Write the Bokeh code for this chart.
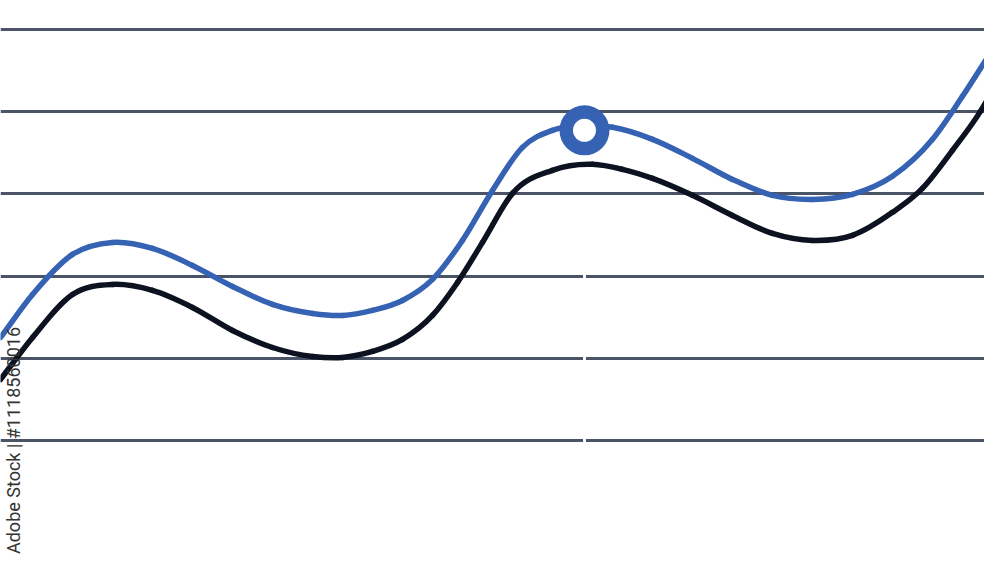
import numpy as np
from bokeh.plotting import figure
from bokeh.models import FixedTicker
from bokeh.embed import file_html
from bokeh.resources import INLINE
from bokeh.core.properties import value

# Blue series (x across 0..100, y in grid units: grid lines every 10)
blue_x = [0, 3.24, 7.28, 11.32, 15.37, 19.41, 23.46, 27.50, 31.55, 34.58, 37.61, 40.65,
          43.68, 46.71, 49.75, 52.78, 55.81, 59.05, 61.88, 65.93, 69.97, 74.01, 78.06,
          82.10, 86.15, 90.19, 94.24, 97.27, 100]
blue_y = [12.53, 17.76, 22.63, 24.09, 23.36, 21.29, 18.73, 16.55, 15.45, 15.21, 15.82,
          17.03, 19.59, 24.33, 30.41, 35.64, 37.71, 38.32, 38.08, 36.62, 34.31, 31.75,
          29.81, 29.32, 29.93, 32.12, 36.62, 41.85, 46.96]
# Black series
black_x = [0, 3.24, 7.28, 11.32, 15.37, 19.41, 23.46, 27.50, 31.55, 34.58, 37.61, 40.65,
           43.68, 46.21, 48.74, 51.77, 55.81, 59.86, 62.89, 65.93, 69.97, 74.01, 78.06,
           82.10, 86.15, 90.19, 93.22, 96.26, 99.09, 100]
black_y = [7.42, 12.53, 17.76, 18.98, 18.25, 16.18, 13.38, 11.31, 10.22, 10.10, 10.83,
           12.29, 15.21, 19.22, 24.09, 30.05, 32.85, 33.58, 32.97, 31.87, 29.81, 27.37,
           25.18, 24.33, 24.94, 27.74, 30.66, 35.28, 40.02, 41.85]
grid_levels = [0, 10, 20, 30, 40, 50]
marker_x = [59.05]
marker_y = [37.71]
watermark = "Adobe Stock | #1118560016"

BLUE = "#3562b3"
BLACK = "#0c1220"
GRID = "#4b5467"


def smooth_segments(xs, ys):
    """Cubic Hermite (weighted 3-point slopes) expressed as Bezier segments."""
    xs = np.asarray(xs, float)
    ys = np.asarray(ys, float)
    h = np.diff(xs)
    d = np.diff(ys) / h
    m = np.empty_like(ys)
    m[0] = d[0]
    m[-1] = d[-1]
    for i in range(1, len(xs) - 1):
        m[i] = (d[i - 1] * h[i] + d[i] * h[i - 1]) / (h[i - 1] + h[i])
    x0, x1 = xs[:-1], xs[1:]
    y0, y1 = ys[:-1], ys[1:]
    cx0 = x0 + h / 3
    cy0 = y0 + m[:-1] * h / 3
    cx1 = x1 - h / 3
    cy1 = y1 - m[1:] * h / 3
    return dict(x0=x0, y0=y0, x1=x1, y1=y1, cx0=cx0, cy0=cy0, cx1=cx1, cy1=cy1)


p = figure(width=984, height=556, output_backend="svg", toolbar_location=None,
           x_range=(0, 99.5), y_range=(-14.1, 53.5), min_border=0,
           outline_line_color=None, background_fill_color="white",
           border_fill_color="white")
p.xaxis.visible = False
p.yaxis.visible = False
p.xgrid.visible = False
p.ygrid.ticker = FixedTicker(ticks=grid_levels)
p.ygrid.grid_line_color = GRID
p.ygrid.grid_line_width = 3

# small white break in the lower grid lines below the marker
p.segment(x0=marker_x, y0=[-1.5], x1=marker_x, y1=[21.5], line_color="white", line_width=3)

p.bezier(**smooth_segments(black_x, black_y), line_color=BLACK, line_width=5.5, line_cap="round")
p.bezier(**smooth_segments(blue_x, blue_y), line_color=BLUE, line_width=5.5, line_cap="round")

p.scatter(marker_x, marker_y, size=50, fill_color=BLUE, line_color=None)
p.scatter(marker_x, marker_y, size=23, fill_color="white", line_color=None)

p.text(x=[1.35], y=[-13.8], text=[watermark], angle=np.pi / 2, text_align="left",
       text_baseline="middle", text_font=value("Roboto"), text_font_size="18px",
       text_color="#333333")

open("out.html", "w").write(file_html(p, INLINE))
